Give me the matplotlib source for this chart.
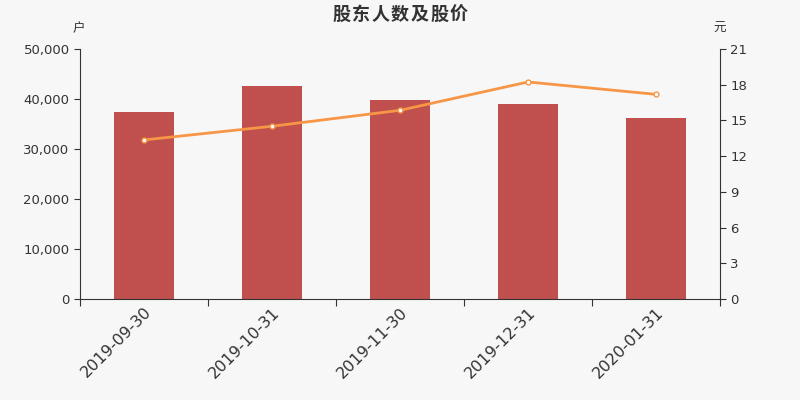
import matplotlib
matplotlib.use('Agg')
import matplotlib.pyplot as plt
from matplotlib.ticker import FuncFormatter

plt.rcParams['font.family'] = ['DejaVu Sans', 'Noto Sans CJK SC']

dates = ['2019-09-30', '2019-10-31', '2019-11-30', '2019-12-31', '2020-01-31']
holders = [37500, 42700, 39800, 39100, 36300]
price = [13.36, 14.51, 15.85, 18.23, 17.19]

bg = '#f7f7f7'
fig = plt.figure(figsize=(8, 4), dpi=100, facecolor=bg)
ax = fig.add_axes([0.1, 0.2525, 0.8, 0.625])
ax.set_facecolor(bg)
ax2 = ax.twinx()

x = list(range(len(dates)))
ax.bar(x, holders, width=0.47, color='#c0504d', zorder=2)
ax2.plot(x, price, color='#f79646', lw=2, marker='o', ms=3.5,
         markerfacecolor='white', markeredgecolor='#f79646', mew=1, zorder=3)

ax.set_xlim(-0.5, len(dates) - 0.5)
ax.set_ylim(0, 50000)
ax.set_yticks(range(0, 50001, 10000))
ax.yaxis.set_major_formatter(FuncFormatter(lambda v, p: f'{int(v):,}'))
ax2.set_ylim(0, 21)
ax2.set_yticks(range(0, 22, 3))

ax.set_xticks([i - 0.5 for i in range(len(dates) + 1)], minor=False)
ax.set_xticklabels([])
ax.set_xticks(x, minor=True)
ax.set_xticklabels(dates, minor=True, rotation=45, ha='right',
                   rotation_mode='anchor', fontsize=11.5, color='#333333')
ax.tick_params(axis='x', which='minor', length=0, pad=4)
ax.tick_params(axis='x', which='major', length=5, color='#333333')

for a in (ax, ax2):
    a.spines['top'].set_visible(False)
    for s in ('left', 'right', 'bottom'):
        a.spines[s].set_color('#333333')
    a.tick_params(axis='y', labelsize=9.5, colors='#333333', length=4)
ax.spines['right'].set_visible(False)
ax2.spines['left'].set_visible(False)
ax2.spines['bottom'].set_visible(False)

# title with wide letter spacing, one glyph at a time
title = '股东人数及股价'
step = 0.0245
x0 = 0.5 - step * (len(title) - 1) / 2
for i, ch in enumerate(title):
    fig.text(x0 + i * step, 0.965, ch, ha='center', va='center', fontsize=13,
             fontweight='bold', color='#333333', family=['Noto Sans CJK SC'])
fig.text(0.098, 0.928, '户', ha='center', va='center', fontsize=9,
         color='#333333', family=['Noto Sans CJK SC'])
fig.text(0.899, 0.928, '元', ha='center', va='center', fontsize=9,
         color='#333333', family=['Noto Sans CJK SC'])

fig.savefig('out.png', dpi=100, facecolor=bg)
